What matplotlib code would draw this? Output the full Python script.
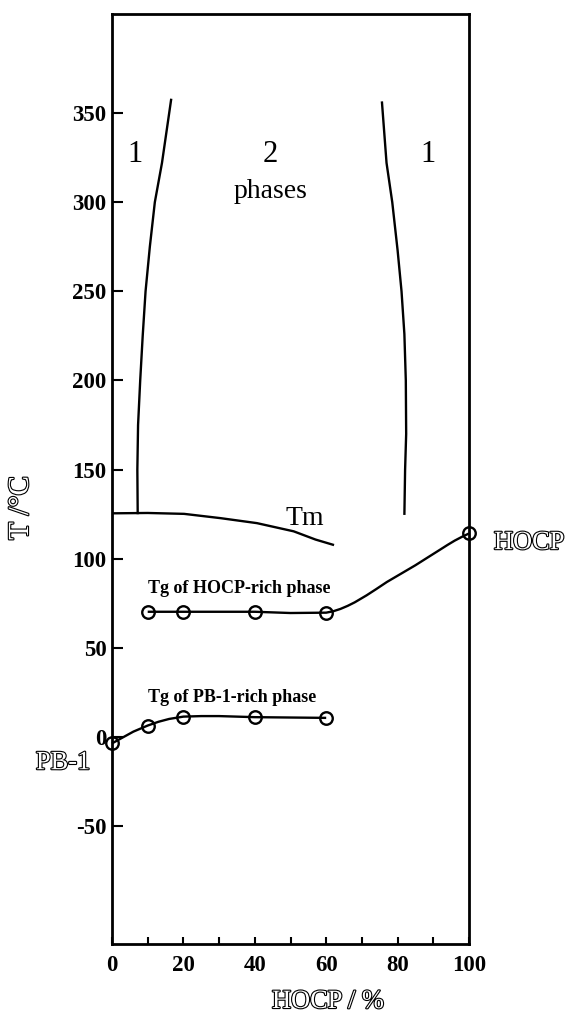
import matplotlib
matplotlib.use("Agg")
import matplotlib.pyplot as plt
import matplotlib.patheffects as pe
from matplotlib.ticker import MultipleLocator

plt.rcParams['font.family'] = ['Liberation Serif', 'DejaVu Serif']
plt.rcParams['axes.unicode_minus'] = False

# ---- data ----
# left binodal (one-phase / two-phase boundary), HOCP % vs T
left_x = [7.2, 7.1, 7.3, 7.9, 8.6, 9.4, 10.6, 12.0, 14.0, 16.6]
left_T = [125, 150, 175, 200, 225, 250, 275, 300, 322, 358]
# right binodal
right_x = [81.9, 82.1, 82.4, 82.3, 81.9, 81.1, 80.0, 78.5, 76.9, 75.6]
right_T = [124.6, 150, 170, 200, 226, 250, 273, 300, 322, 356.5]
# melting temperature curve Tm
tm_x = [0, 10, 20.2, 30.4, 40.6, 50.9, 57.0, 62.2]
tm_T = [125.5, 125.7, 125.2, 122.8, 120.0, 115.4, 110.8, 107.7]
# Tg of HOCP-rich phase: measured points
hocp_pts_x = [10, 20, 40, 60, 100]
hocp_pts_T = [70.3, 70.3, 70.3, 69.8, 114.2]
# Tg of HOCP-rich phase: drawn curve
hocp_curve_x = [10, 20, 30, 40, 50, 60, 62, 64, 66, 68, 71.3, 74, 77, 81.6, 85, 88,
                91.8, 94, 96, 98, 100]
hocp_curve_T = [70.3, 70.3, 70.3, 70.3, 69.6, 69.8, 70.6, 71.9, 73.6, 75.6, 79.5,
                83.0, 87.0, 92.4, 96.4, 100.2, 105.0, 107.8, 110.2, 112.3, 114.2]
# Tg of PB-1-rich phase: measured points
pb_pts_x = [0, 10, 20, 40, 60]
pb_pts_T = [-3.5, 6.5, 11.5, 11.2, 10.8]
# Tg of PB-1-rich phase: drawn curve
pb_curve_x = [0, 3, 6, 10, 13, 16, 20, 25, 30, 40, 50, 60]
pb_curve_T = [-3.5, -0.2, 3.1, 6.5, 8.6, 10.2, 11.5, 11.8, 11.8, 11.2, 11.0, 10.8]

x_ticks = [0, 20, 40, 60, 80, 100]
y_ticks = [-50, 0, 50, 100, 150, 200, 250, 300, 350]

# ---- figure ----
fig = plt.figure(figsize=(5.76, 10.17), dpi=100)
ax = fig.add_axes([112/576, 73/1017, 357/576, 930/1017])
ax.set_xlim(0, 100)
ax.set_ylim(-116, 405.5)

lw = 1.7
kw = dict(color='black', lw=lw, solid_joinstyle='round', solid_capstyle='butt')
ax.plot(left_x, left_T, **kw)
ax.plot(right_x, right_T, **kw)
ax.plot(tm_x, tm_T, **kw)
ax.plot(hocp_curve_x, hocp_curve_T, clip_on=False, **kw)
ax.plot(pb_curve_x, pb_curve_T, clip_on=False, **kw)
mk = dict(linestyle='none', marker='o', markersize=9, markerfacecolor='none',
          markeredgecolor='black', markeredgewidth=1.7, clip_on=False, zorder=5)
ax.plot(hocp_pts_x, hocp_pts_T, **mk)
ax.plot(pb_pts_x, pb_pts_T, **mk)

for s in ax.spines.values():
    s.set_linewidth(2.0)

ax.set_xticks(x_ticks)
ax.xaxis.set_minor_locator(MultipleLocator(10))
ax.set_yticks(y_ticks)
ax.tick_params(axis='x', which='both', direction='in', length=5, width=1.5,
               pad=8, labelsize=16.5)
ax.tick_params(axis='y', which='both', direction='in', length=8, width=1.5,
               pad=4, labelsize=16.5)
for lab in ax.get_xticklabels() + ax.get_yticklabels():
    lab.set_fontweight('bold')

outline = [pe.withStroke(linewidth=1.6, foreground='black')]

# region labels
ax.text(6.5, 326.6, '1', fontsize=22, ha='center', va='center')
ax.text(44.4, 326.6, '2', fontsize=22, ha='center', va='center')
ax.text(44.4, 306, 'phases', fontsize=20, ha='center', va='center')
ax.text(88.4, 326.6, '1', fontsize=22, ha='center', va='center')
ax.text(54, 122.8, 'Tm', fontsize=20, ha='center', va='center')
ax.text(35.6, 83.6, 'Tg of HOCP-rich phase', fontsize=13, fontweight='bold',
        ha='center', va='center')
ax.text(33.6, 22.5, 'Tg of PB-1-rich phase', fontsize=13, fontweight='bold',
        ha='center', va='center')

ax.text(-13.7, -14.6, 'PB-1', fontsize=19, ha='center', va='center',
        color='white', path_effects=outline, clip_on=False)
ax.text(107, 108.8, 'HOCP', fontsize=19, ha='left', va='center',
        color='white', path_effects=outline, clip_on=False)

fig.text(328/576, 1 - 1002/1017, 'HOCP / %', fontsize=19, ha='center',
         va='center', color='white', path_effects=outline)
fig.text(21/576, 1 - 508/1017, 'T /°C', fontsize=21, ha='center',
         va='center', rotation=90, color='white', path_effects=outline)

fig.savefig('out.png', dpi=100)
